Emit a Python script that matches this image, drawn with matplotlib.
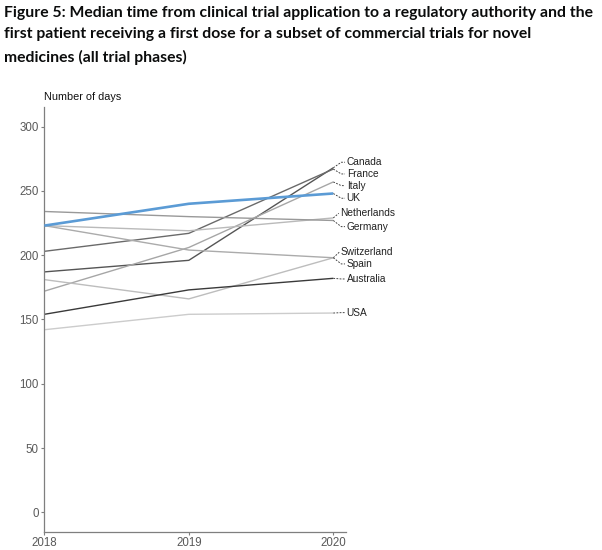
import matplotlib.pyplot as plt

years = [2018, 2019, 2020]

countries = ['Canada', 'France', 'Italy', 'UK', 'Netherlands', 'Germany',
             'Switzerland', 'Spain', 'Australia', 'USA']
days = {
    'Canada':      [187, 196, 268],
    'France':      [203, 217, 267],
    'Italy':       [172, 206, 257],
    'UK':          [223, 240, 248],
    'Netherlands': [223, 219, 229],
    'Germany':     [234, 230, 227],
    'Switzerland': [181, 166, 198],
    'Spain':       [223, 204, 198],
    'Australia':   [154, 173, 182],
    'USA':         [142, 154, 155],
}

# styling / label layout (not data)
colours = {
    'Canada': '#555555', 'France': '#6a6a6a', 'Italy': '#a6a6a6',
    'UK': '#5b9bd5', 'Netherlands': '#bababa', 'Germany': '#999999',
    'Switzerland': '#bdbdbd', 'Spain': '#ababab', 'Australia': '#3a3a3a',
    'USA': '#cccccc',
}
label_y = {
    'Canada': 272.3, 'France': 263.2, 'Italy': 254.1, 'UK': 244.3,
    'Netherlands': 232.6, 'Germany': 222.2, 'Switzerland': 202.3,
    'Spain': 193.2, 'Australia': 181.5, 'USA': 155.3,
}
label_x = {c: 2020.093 for c in countries}
label_x['Netherlands'] = 2020.05
label_x['Switzerland'] = 2020.053

fig = plt.figure(figsize=(6.02, 5.5), dpi=100)
ax = fig.add_axes([0.0736, 0.0333, 0.5007, 0.7722])

# grey lines first, UK on top
order = [c for c in countries if c != 'UK'] + ['UK']
for c in order:
    lw = 1.9 if c == 'UK' else 1.0
    ax.plot(years, days[c], color=colours[c], lw=lw, solid_capstyle='butt',
            zorder=3 if c == 'UK' else 2)

    # dashed leader from line end to label
    x0, y0 = years[-1], days[c][-1]
    x1 = label_x[c] - 0.012
    ax.plot([x0, x0 + 0.055 if x1 > x0 + 0.055 else x1, x1],
            [y0, label_y[c], label_y[c]],
            color='#383838', lw=0.65, ls=(0, (2, 1.5)), clip_on=False)
    ax.text(label_x[c], label_y[c], c, fontsize=7.3, color='#222222',
            family='Liberation Sans', va='center', ha='left')

ax.set_xlim(2018, 2020.086)
ax.set_ylim(-15.1, 315.3)
ax.set_xticks(years)
ax.set_xticklabels([str(y) for y in years])
ax.set_yticks(range(0, 301, 50))

for s in ['top', 'right']:
    ax.spines[s].set_visible(False)
for s in ['left', 'bottom']:
    ax.spines[s].set_color('#7f7f7f')
    ax.spines[s].set_linewidth(0.9)

ax.tick_params(axis='both', colors='#7f7f7f', length=2.5, width=0.8,
               labelsize=8.3, labelcolor='#595959', pad=1.5)
for lab in ax.get_xticklabels() + ax.get_yticklabels():
    lab.set_family('Liberation Sans')

fig.text(44.3 / 602, 1 - 97 / 550, 'Number of days', fontsize=7.8,
         family='Liberation Sans', color='#111111', va='center', ha='left')

fig.text(0.006, 0.99,
         'Figure 5: Median time from clinical trial application to a regulatory authority and the\n'
         'first patient receiving a first dose for a subset of commercial trials for novel\n'
         'medicines (all trial phases)',
         fontsize=11.3, fontweight='bold', family='Lato', color='#0b0c0c',
         va='top', ha='left', linespacing=1.72)

fig.savefig('out.png', dpi=100)
